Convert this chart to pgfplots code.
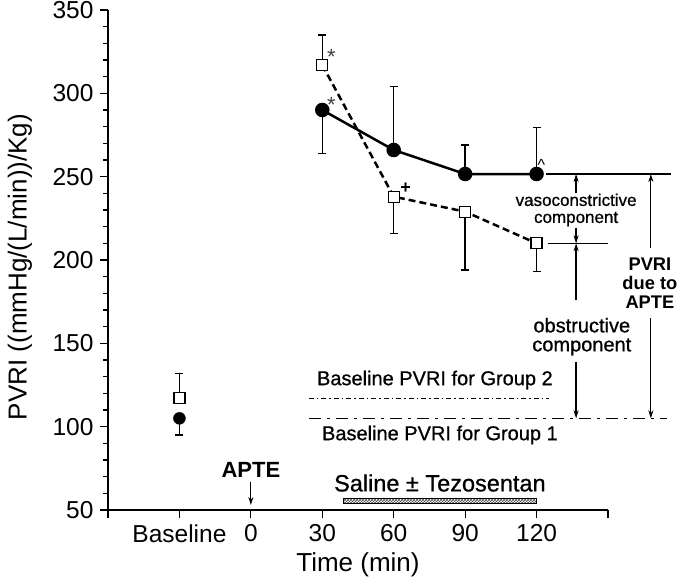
\documentclass[border=0pt]{standalone}
\usepackage{pgfplots}
\pgfplotsset{compat=1.18}
\usepackage{fontspec}
\setmainfont{Liberation Sans}
\newfontfamily\medsans{Liberation Sans}[FakeBold=0.8]
\usetikzlibrary{patterns,arrows.meta}

% group 1: filled circles, solid line; group 2: open squares, dashed line
\pgfplotstableread{
x    y     ep   em
30   290   0    26
60   266   38   0
90   251.6 17.5 0
120  251.6 28   0
}\groupone
\pgfplotstableread{
x    y     ep   em
30   317   18   0
60   238   0    22
90   229   0    35
120  210   0    17
}\grouptwo
\pgfplotstableread{
x    y     ep   em
-30  105   0    10
}\baseone
\pgfplotstableread{
x    y     ep   em
-30  117   15   0
}\basetwo

\begin{document}
\begin{tikzpicture}
\path[use as bounding box] (-108pt,-77pt) rectangle (572pt,510pt);
\begin{axis}[
    scale only axis,
    width=500pt, height=500pt,
    xmin=-60, xmax=150,
    ymin=50, ymax=350,
    axis lines=left,
    axis line style={-, line width=1.4pt},
    tick align=outside,
    major tick length=8pt,
    minor tick length=5pt,
    every tick/.style={black, line width=1.2pt},
    xtick={-60,-30,0,30,60,90,120,150},
    xticklabels={,Baseline,0,30,60,90,120,},
    ytick={50,100,...,350},
    minor y tick num=4,
    /pgf/number format/assume math mode=true,
    tick label style={font=\fontsize{24.5}{28}\selectfont},
    yticklabel style={xshift=-3pt},
    xticklabel style={yshift=-3pt},
    xlabel={Time (min)},
    ylabel={PVRI ((mmHg/(L/min))/Kg)},
    label style={font=\fontsize{26}{30}\selectfont},
    xlabel style={at={(axis description cs:0.5,-0.11)}, anchor=center},
    ylabel style={at={(axis description cs:-0.176,0.486)}, anchor=center, rotate=0},
    clip=false,
    error bars/y dir=both,
    error bars/y explicit,
    error bars/error bar style={solid, line width=1.4pt},
    error bars/error mark options={rotate=90, solid, mark size=4pt, line width=1.4pt},
]
\addplot[line width=2.5pt, mark=*, mark size=6pt, mark options={solid, fill=black}]
    table[x=x, y=y, y error plus=ep, y error minus=em] {\groupone};
\addplot[line width=2.5pt, dash pattern=on 7pt off 4pt, mark=square*, mark size=5.5pt,
    mark options={solid, fill=white, line width=1.3pt}]
    table[x=x, y=y, y error plus=ep, y error minus=em] {\grouptwo};
\addplot[only marks, mark=*, mark size=6pt, mark options={fill=black}]
    table[x=x, y=y, y error plus=ep, y error minus=em] {\baseone};
\addplot[only marks, mark=square*, mark size=5.5pt, mark options={fill=white, line width=1.3pt}]
    table[x=x, y=y, y error plus=ep, y error minus=em] {\basetwo};

% significance marks
\node[font=\fontsize{22}{22}\selectfont, text=black!75] at (33.8,322) {*};
\node[font=\fontsize{22}{22}\selectfont, text=black!75] at (33.8,293) {*};
\node[font=\bfseries\fontsize{18}{18}\selectfont] at (65,243) {+};
\node[font=\fontsize{16}{16}\selectfont] at (122,257) {\textasciicircum};

% reference lines
\draw[line width=1.2pt] (124,251.6) -- (176.5,251.6);
\draw[line width=1.2pt] (125,210) -- (150,210);
\draw[line width=1.6pt, dash pattern=on 5pt off 3pt on 1.5pt off 3pt] (24.4,117) -- (125.2,117);
\draw[line width=1.6pt, dash pattern=on 12pt off 6pt on 3pt off 6pt] (24.4,105) -- (174.8,105);

% arrows
\tikzset{myarr/.style={line width=1.2pt, -{Stealth[length=8pt,width=5pt]}}}
\draw[myarr] (136.6,240) -- (136.6,251.6);
\draw[myarr] (136.6,219) -- (136.6,210);
\draw[myarr] (136.6,176) -- (136.6,210);
\draw[myarr] (136.6,139) -- (136.6,105);
\draw[myarr] (168,207) -- (168,251.6);
\draw[myarr] (168,165) -- (168,105);
\draw[line width=1.2pt, -{Stealth[length=8pt,width=5pt]}] (0,67) -- (0,53);

% texts
\node[align=center, font=\medsans\fontsize{17}{17}\selectfont] at (136.6,230) {vasoconstrictive\\component};
\node[align=center, font=\medsans\fontsize{20}{19}\selectfont] at (139,154) {obstructive\\component};
\node[align=center, font=\bfseries\fontsize{18.3}{19}\selectfont] at (167.6,186) {PVRI\\due to\\APTE};
\node[font=\medsans\fontsize{20}{20}\selectfont] at (77.3,128) {Baseline PVRI for Group 2};
\node[font=\medsans\fontsize{20}{20}\selectfont] at (79.4,95) {Baseline PVRI for Group 1};
\node[font=\bfseries\fontsize{22}{22}\selectfont] at (0,74) {APTE};
\node[font=\medsans\fontsize{23.5}{24}\selectfont] at (79.4,66.2) {Saline ± Tezosentan};
\draw[line width=1pt, pattern=crosshatch, pattern color=black!70] (39,54.2) rectangle (120,57.2);
\end{axis}
\end{tikzpicture}
\end{document}
